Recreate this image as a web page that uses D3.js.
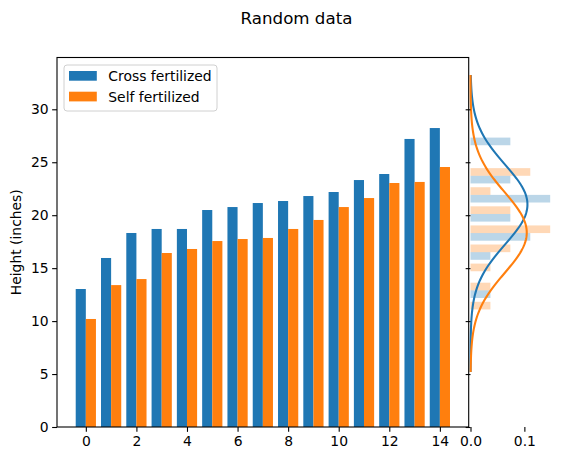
<!DOCTYPE html>
<html><head><meta charset="utf-8">
<script src="https://cdn.jsdelivr.net/npm/d3@7"></script>
<style>
body{margin:0;background:#fff;}
text{font-family:"DejaVu Sans",sans-serif;fill:#000;}
</style></head>
<body>
<svg id="c" width="562" height="461"></svg>
<script>
const title = "Random data";
const yLabel = "Height (inches)";
const seriesNames = ["Cross fertilized", "Self fertilized"];
const colors = ["#1f77b4", "#ff7f0e"];
const cross = [13.03, 15.96, 18.32, 18.70, 18.70, 20.49, 20.77, 21.15, 21.34, 21.81, 22.19, 23.32, 23.89, 27.20, 28.23];
const selfF = [10.2, 13.4, 13.97, 16.43, 16.81, 17.56, 17.75, 17.85, 18.70, 19.55, 20.77, 21.62, 23.04, 23.14, 24.55];
const xTicks = [0, 2, 4, 6, 8, 10, 12, 14];
const yTicks = [0, 5, 10, 15, 20, 25, 30];
const histXTicks = [0.0, 0.1];
const nBins = 10;

const series = [cross, selfF];
const svg = d3.select("#c");
const fs = 13.9;

// layout
const L = 57, R = 468.7, T = 57.5, B = 427;
const PL = 470.5, PR = 554;

const all = cross.concat(selfF);
const lo = d3.min(all), hi = d3.max(all);
const ymax = (hi + 5) * 1.05;
const y = d3.scaleLinear().domain([0, ymax]).range([B, T]);
const idx = d3.range(cross.length);
const x = d3.scaleLinear().domain([-1.14, 15.14]).range([L, R]);
const bw = 0.4;

// bars
series.forEach((s, si) => {
  svg.append("g").selectAll("rect").data(s).join("rect")
    .attr("x", (d, i) => x(si === 0 ? i - bw : i))
    .attr("width", x(bw) - x(0))
    .attr("y", d => y(d))
    .attr("height", d => y(0) - y(d))
    .attr("fill", colors[si]);
});

// frame
svg.append("rect").attr("x", L).attr("y", T).attr("width", R - L).attr("height", B - T)
  .attr("fill", "none").attr("stroke", "#000").attr("stroke-width", 1.1);

// axes
const tl = 4.86;
const xAxis = d3.axisBottom(x).tickValues(xTicks).tickSize(tl).tickPadding(3.3).tickFormat(d3.format("d"));
const gx = svg.append("g").attr("transform", `translate(0,${B})`).call(xAxis);
const yAxis = d3.axisLeft(y).tickValues(yTicks).tickSize(tl).tickPadding(3.5).tickFormat(d3.format("d"));
const gy = svg.append("g").attr("transform", `translate(${L},0)`).call(yAxis);
[gx, gy].forEach(g => {
  g.select(".domain").remove();
  g.selectAll("line").attr("stroke", "#000").attr("stroke-width", 1.1);
  g.selectAll("text").attr("font-size", fs).attr("font-family", "DejaVu Sans").attr("fill", "#000");
});
gx.selectAll("text").attr("dy", "0.76em");

svg.append("text").attr("transform", `translate(21,${(T + B) / 2}) rotate(-90)`)
  .attr("text-anchor", "middle").attr("font-size", fs).text(yLabel);

svg.append("text").attr("x", 296.5).attr("y", 24).attr("text-anchor", "middle")
  .attr("font-size", 16.67).text(title);

// legend
const lg = svg.append("g");
lg.append("rect").attr("x", 64).attr("y", 65).attr("width", 153).attr("height", 46).attr("rx", 3)
  .attr("fill", "#fff").attr("fill-opacity", 0.8).attr("stroke", "#d0d0d0").attr("stroke-width", 1);
seriesNames.forEach((n, i) => {
  lg.append("rect").attr("x", 69).attr("y", 71 + i * 20.7).attr("width", 27.8).attr("height", 9.7).attr("fill", colors[i]);
  lg.append("text").attr("x", 108.3).attr("y", 81 + i * 20.7).attr("font-size", fs).text(n);
});

// histogram panel
const hx = d3.scaleLinear().domain([0, 0.155]).range([PL, PR]);
const w = (hi - lo) / nBins;
const thr = d3.range(1, nBins).map(k => lo + k * w);
const binner = d3.bin().domain([lo, hi]).thresholds(thr);
series.forEach((s, si) => {
  const bins = binner(s);
  svg.append("g").selectAll("rect").data(bins).join("rect")
    .attr("x", hx(0))
    .attr("width", b => hx(b.length / (s.length * w)) - hx(0))
    .attr("y", (b, k) => { const c = lo + (k + 0.5) * w; return y(si === 0 ? c : c + 0.4 * w); })
    .attr("height", y(0) - y(0.4 * w))
    .attr("fill", colors[si]).attr("fill-opacity", 0.3);
});

// normal curves
const ys = d3.range(200).map(i => (lo - 5) + i * ((hi + 5) - (lo - 5)) / 199);
series.forEach((s, si) => {
  const m = d3.mean(s);
  const sd = Math.sqrt(d3.mean(s, v => (v - m) * (v - m)));
  const pts = ys.map(v => [v, Math.exp(-0.5 * ((v - m) / sd) ** 2) / (sd * Math.sqrt(2 * Math.PI))]);
  svg.append("path").datum(pts)
    .attr("d", d3.line().x(p => hx(p[1])).y(p => y(p[0])))
    .attr("fill", "none").attr("stroke", colors[si]).attr("stroke-width", 2.08);
});

// panel ticks
const gpy = svg.append("g").attr("transform", `translate(${PL},0)`)
  .call(d3.axisLeft(y).tickValues(yTicks).tickSize(tl).tickFormat(""));
const gpx = svg.append("g").attr("transform", `translate(0,${B})`)
  .call(d3.axisBottom(hx).tickValues(histXTicks).tickSize(tl).tickPadding(3.3).tickFormat(d3.format(".1f")));
[gpy, gpx].forEach(g => {
  g.select(".domain").remove();
  g.selectAll("line").attr("stroke", "#000").attr("stroke-width", 1.1);
  g.selectAll("text").attr("font-size", fs).attr("font-family", "DejaVu Sans").attr("fill", "#000");
});
gpx.selectAll("text").attr("dy", "0.76em");
</script>
</body></html>
